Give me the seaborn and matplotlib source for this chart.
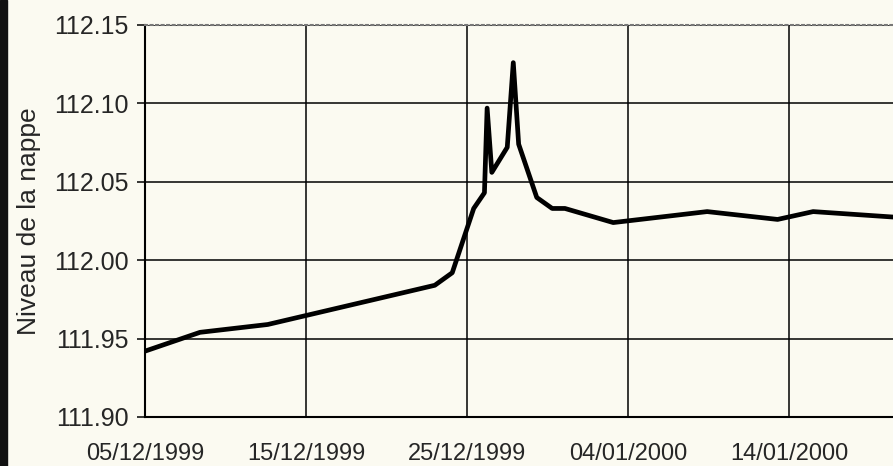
import matplotlib
matplotlib.use("Agg")
import matplotlib.pyplot as plt
import matplotlib.dates as mdates
import seaborn as sns
import pandas as pd

# relevés du niveau de la nappe
dates = [
    "1999-12-05 00:00", "1999-12-08 10:00", "1999-12-12 15:00",
    "1999-12-23 00:00", "1999-12-24 02:00", "1999-12-25 10:00",
    "1999-12-26 02:00", "1999-12-26 06:00", "1999-12-26 13:00",
    "1999-12-27 12:00", "1999-12-27 21:00", "1999-12-28 05:00",
    "1999-12-29 08:00", "1999-12-30 07:00", "1999-12-31 02:00",
    "2000-01-03 02:00", "2000-01-08 22:00", "2000-01-13 07:00",
    "2000-01-15 12:00", "2000-01-20 12:00",
]
niveau = [
    111.942, 111.954, 111.959,
    111.984, 111.992, 112.033,
    112.043, 112.097, 112.056,
    112.072, 112.126, 112.074,
    112.040, 112.033, 112.033,
    112.024, 112.031, 112.026,
    112.031, 112.0275,
]
tick_dates = ["1999-12-05", "1999-12-15", "1999-12-25", "2000-01-04", "2000-01-14"]
y_ticks = [111.90, 111.95, 112.00, 112.05, 112.10, 112.15]

df = pd.DataFrame({"date": pd.to_datetime(dates), "niveau": niveau})

sns.set_style("white")
plt.rcParams["font.family"] = ["Liberation Sans", "DejaVu Sans"]
bg = "#fbfaf1"

fig = plt.figure(figsize=(8.93, 4.66), dpi=100, facecolor=bg)
ax = fig.add_axes([145 / 893, 1 - 417 / 466, 1 - 145 / 893, (417 - 25) / 466])
ax.set_facecolor(bg)

sns.lineplot(data=df, x="date", y="niveau", color="black", linewidth=3.4, ax=ax)

ax.set_xlim(pd.Timestamp("1999-12-05"), pd.Timestamp("1999-12-05") + pd.Timedelta(days=46.46))
ax.set_ylim(111.90, 112.15)
ax.set_xticks(pd.to_datetime(tick_dates))
ax.xaxis.set_major_formatter(mdates.DateFormatter("%d/%m/%Y"))
ax.set_yticks(y_ticks)
ax.set_yticklabels([f"{v:.2f}" for v in y_ticks])

ax.grid(True, color="black", linewidth=1.1)
ax.set_axisbelow(True)
ax.tick_params(axis="x", length=0, pad=19, labelsize=17)
ax.tick_params(axis="y", length=6, width=1.1, color="black", pad=6, labelsize=18, left=True)
ax.set_xlabel("")
ax.set_ylabel("Niveau de la nappe", fontsize=19, labelpad=9)

for s in ["left", "bottom"]:
    ax.spines[s].set_color("black")
    ax.spines[s].set_linewidth(1.5)
ax.spines["top"].set_color("#777777")
ax.spines["top"].set_linestyle(":")
ax.spines["top"].set_linewidth(1.5)
ax.spines["right"].set_visible(False)

# bord noir du scan
fig.patches.append(plt.Rectangle((0, 0), 7 / 893, 1, transform=fig.transFigure,
                                 color="#111111", zorder=-1))

fig.savefig("out.png", dpi=100, facecolor=bg)
plt.close(fig)
